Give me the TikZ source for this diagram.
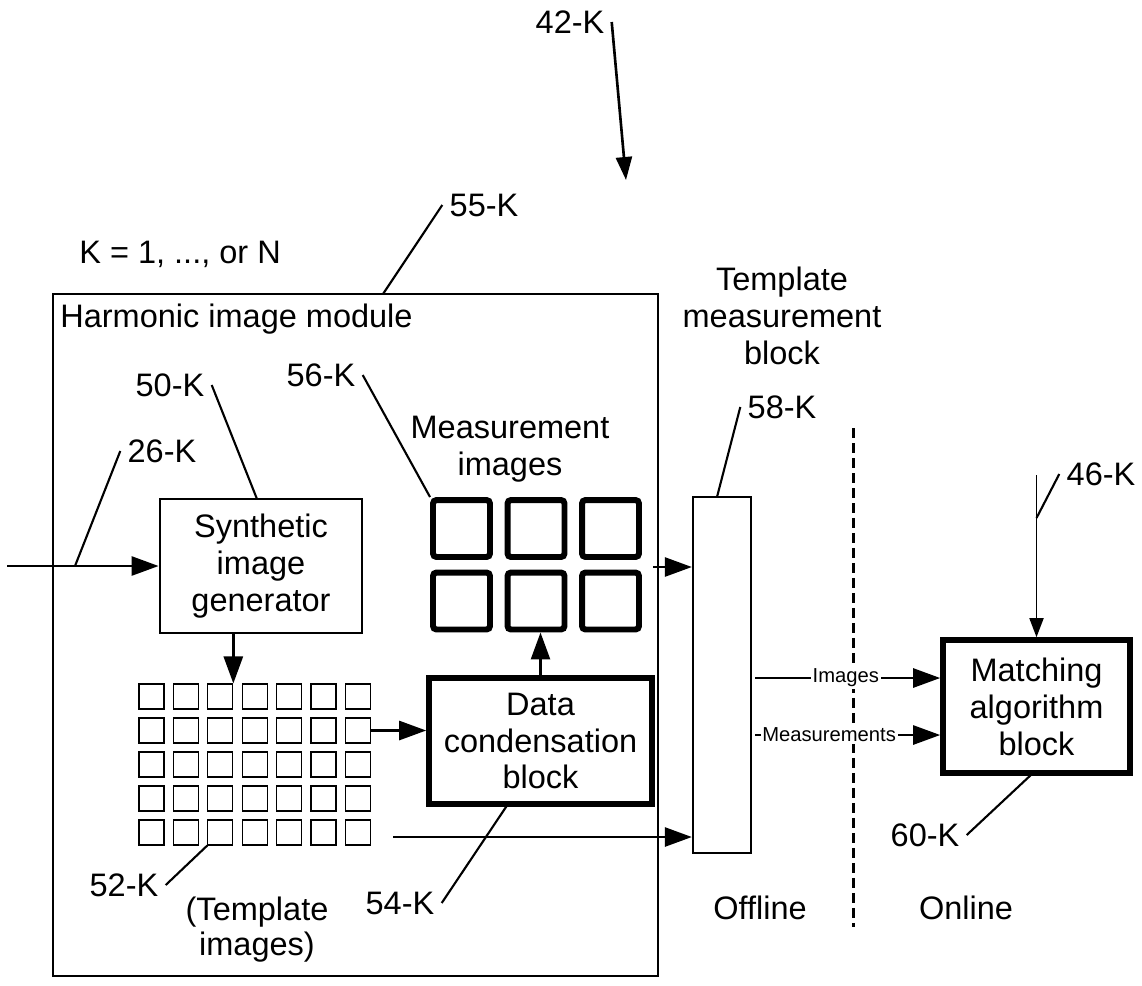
\documentclass[tikz,border=0pt]{standalone}
\usepackage{fontspec}
\setmainfont{Liberation Sans}
\usetikzlibrary{arrows.meta}

\begin{document}
\begin{tikzpicture}[x=0.02cm, y=-0.02cm,
    font=\fontsize{18.5}{21}\selectfont,
    blk/.style={draw, line width=1.6pt, align=center, inner sep=0pt},
    thickblk/.style={draw, line width=3.2pt, align=center, inner sep=0pt},
    timg/.style={draw, line width=0.6pt, minimum size=0.5cm, inner sep=0pt},
    mimg/.style={draw, line width=3.4pt, rounded corners=2pt, minimum size=1.14cm, inner sep=0pt},
    refno/.style={inner sep=4pt},
    leader/.style={line width=1.2pt},
    arr/.style={line width=1.5pt, -{Triangle[length=0.54cm,width=0.38cm]}},
    flowlbl/.style={font=\fontsize{11.5}{13}\selectfont, fill=white, inner sep=1pt}]
            \useasboundingbox (0,0) rectangle (1142,985);

            % Draw module frame
            \node[draw, line width=0.9pt, minimum width=12.1cm, minimum height=13.64cm] (module) at (355.5,635) {};
            \node[anchor=base west, inner sep=0pt] (modtitle) at (60,327) {Harmonic image module};
            \node[anchor=base west, inner sep=0pt] (kcount) at (79,263) {K = 1, ..., or N};

            % Draw blocks
            \node[blk, minimum width=4.04cm, minimum height=2.68cm] (synth) at (261,566) {Synthetic\\image\\generator};
            \node[thickblk, minimum width=4.46cm, minimum height=2.52cm] (cond) at (540.5,741) {Data\\condensation\\block};
            \node[draw, line width=1.3pt, minimum width=1.16cm, minimum height=7.12cm] (tmb) at (722,675) {};
            \node[thickblk, minimum width=3.74cm, minimum height=2.66cm] (match) at (1036.5,706.5) {Matching\\algorithm\\block};

            % Draw template images
            \foreach \i in {0,...,6}
              \foreach \j in {0,...,4}
                \node[timg] (t-\i-\j) at ({151.5+34.4*\i},{696.5+34*\j}) {};

            % Draw measurement images
            \foreach \i/\xx in {0/461.5,1/536,2/610.5}
              \foreach \j/\yy in {0/528.5,1/601}
                \node[mimg] (m-\i-\j) at (\xx,\yy) {};

            \node[align=center, inner sep=0pt] (mlabel) at (510,449) {Measurement\\images};
            \node[align=center, inner sep=0pt] (tmlabel) at (782,316) {Template\\measurement\\block};
            \node[align=center, inner sep=0pt, anchor=north, font=\fontsize{18.5}{19.5}\selectfont] (tlabel) at (257,897) {(Template\\images)};
            \node[anchor=base, inner sep=0pt] (offl) at (760,919) {Offline};
            \node[anchor=base, inner sep=0pt] (onl) at (966,919) {Online};

            % Draw offline/online divider
            \coordinate (dtop) at (853,428);
            \coordinate (dbot) at (853,927);
            \draw[line width=1.7pt, dash pattern=on 0.2cm off 0.1cm] (dtop) -- (dbot);

            % Draw arrows
            \coordinate (src) at (7,566);
            \draw[arr] (src) -- (synth.west);
            \draw[arr] (synth.south -| t-2-0.north east) -- (t-2-0.north east);
            \draw[arr] (t-6-1.east) -- (cond.west |- t-6-1.east);
            \draw[arr] (cond.north) -- (cond.north |- m-1-1.south);
            \coordinate (mout) at (653,567);
            \draw[arr] (mout) -- (mout -| tmb.west);
            \coordinate (gout) at (393,837);
            \draw[arr] (gout) -- (gout -| tmb.west);
            \coordinate (iout) at (755,678);
            \coordinate (qout) at (755,735);
            \draw[arr] (iout) -- node[flowlbl, pos=0.49] {Images} (iout -| match.west);
            \draw[arr] (qout) -- node[flowlbl, pos=0.4] {Measurements} (qout -| match.west);

            % Draw reference numerals
            \node[refno] (r42) at (570,22) {42-K};
            \coordinate (p42) at (626,180);
            \draw[line width=1.5pt, -{Triangle[length=0.46cm,width=0.32cm]}] (r42.east) -- (p42);

            \node[refno] (r55) at (484,205) {55-K};
            \coordinate (p55) at (383,294);
            \draw[leader] (r55.west) -- (p55);

            \node[refno] (r50) at (170,385) {50-K};
            \coordinate (p50) at (257,499);
            \draw[leader] (r50.east) -- (p50);

            \node[refno] (r26) at (162,451) {26-K};
            \coordinate (p26) at (75,566);
            \draw[leader] (r26.west) -- (p26);

            \node[refno] (r56) at (321,375) {56-K};
            \draw[leader] (r56.east) -- (m-0-0.north west);

            \node[refno] (r58) at (782,407) {58-K};
            \coordinate (p58) at (717,497);
            \draw[leader] (r58.west) -- (p58);

            \node[refno] (r46) at (1101,474) {46-K};
            \coordinate (in46) at (1036.5,475);
            \coordinate (p46) at (1036.5,518);
            \draw[line width=1pt, -{Triangle[length=0.38cm,width=0.28cm]}] (in46) -- (match.north);
            \draw[leader] (r46.west) -- (p46);

            \node[refno] (r60) at (925,835) {60-K};
            \coordinate (p60) at (1033,773);
            \draw[leader] (r60.east) -- (p60);

            \node[refno] (r54) at (400,903) {54-K};
            \coordinate (p54) at (508,804);
            \draw[leader] (r54.east) -- (p54);

            \node[refno] (r52) at (124,885) {52-K};
            \draw[leader] (r52.east) -- (t-2-4.south west);
\end{tikzpicture}
\end{document}
